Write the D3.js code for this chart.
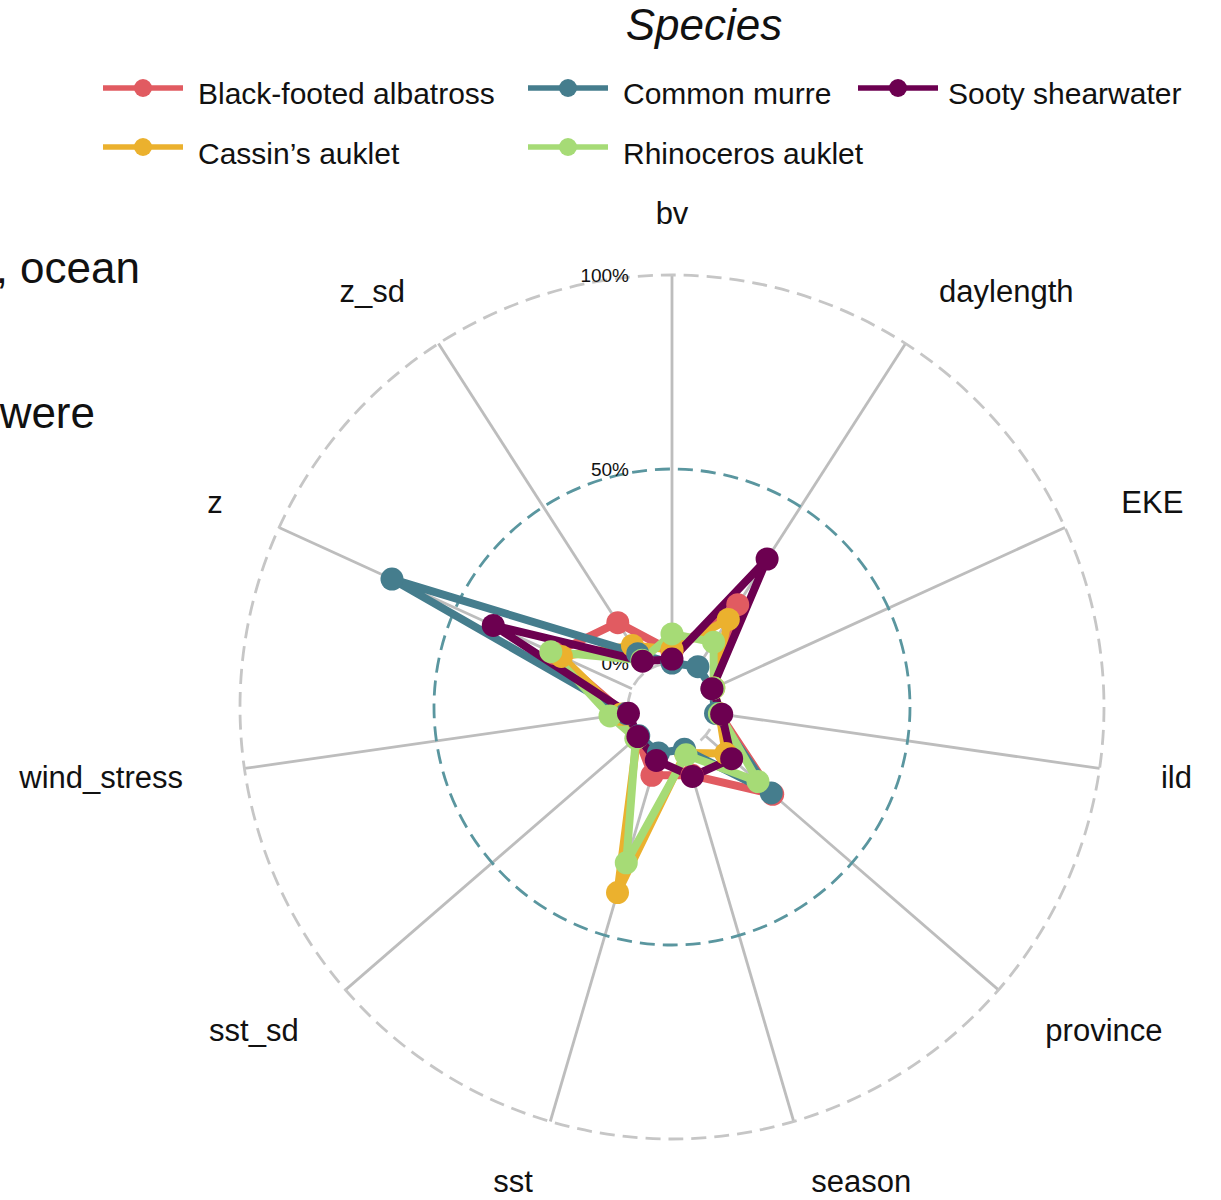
<!DOCTYPE html>
<html>
<head>
<meta charset="utf-8">
<script src="https://cdn.jsdelivr.net/npm/d3@7"></script>
<style>
  body { margin: 0; background: #fff; }
  svg text { font-family: "Liberation Sans", Arial, Helvetica, sans-serif; fill: #111; }
</style>
</head>
<body>
<div id="chart"></div>
<script>
// variables around the radar, clockwise from the top
var axes = ["bv", "daylength", "EKE", "ild", "province", "season", "sst", "sst_sd", "wind_stress", "z", "z_sd"];

var species = ["Black-footed albatross", "Cassin\u2019s auklet", "Common murre", "Rhinoceros auklet", "Sooty shearwater"];
var colors = ["#e15b61", "#ebb12e", "#457d8d", "#a6db76", "#6c0050"];

// relative importance (%) per variable, same order as axes
var albatross = [3, 20, 0, 1, 23, 7, 7, 0.5, 1, 22, 14.5];
var cassins   = [3.5, 15.5, 0.5, 1, 7, 1, 38.5, 0.5, 2, 20, 7.5];
var murre     = [0, 1, 0, 0, 22.5, 0, 1, 0, 0.5, 68, 5];
var rhino     = [7.5, 8.5, 0.5, 1, 18, 1.5, 30.5, 1, 4.8, 23, 3];
var sooty     = [1, 34, 0, 1.6, 9, 7.3, 3, 0.3, 0, 39.3, 2.7];

var gridValues = [0, 50, 100];
var gridLabels = ["0%", "50%", "100%"];

var seriesValues = [albatross, cassins, murre, rhino, sooty];

var width = 1221, height = 1200;
var cx = 672, cy = 707;
var r0 = 44, rMax = 432;

var svg = d3.select("#chart").append("svg")
    .attr("width", width)
    .attr("height", height);

// cut-off text of the neighbouring slide text
svg.append("text").attr("x", 140).attr("y", 283)
    .attr("text-anchor", "end").style("font-size", "44px").text(", ocean");
svg.append("text").attr("x", 95).attr("y", 428)
    .attr("text-anchor", "end").style("font-size", "44px").text("were");

var r = d3.scaleLinear().domain([0, 100]).range([r0, rMax]);
var angle = d3.scaleLinear().domain([0, axes.length]).range([0, 2 * Math.PI]);

var g = svg.append("g")
    .attr("transform", "translate(" + cx + "," + cy + ")");

// axis spokes
g.selectAll(".spoke")
    .data(axes)
  .enter().append("line")
    .attr("class", "spoke")
    .attr("x1", function(d, i) { return r0 * Math.sin(angle(i)); })
    .attr("y1", function(d, i) { return -r0 * Math.cos(angle(i)); })
    .attr("x2", function(d, i) { return rMax * Math.sin(angle(i)); })
    .attr("y2", function(d, i) { return -rMax * Math.cos(angle(i)); })
    .attr("stroke", "#bdbdbd")
    .attr("stroke-width", 2.8);

// grid circles
g.selectAll(".grid")
    .data(gridValues)
  .enter().append("circle")
    .attr("class", "grid")
    .attr("r", function(d) { return r(d); })
    .attr("fill", "none")
    .attr("stroke", function(d) { return d == 50 ? "#5a969f" : "#c6c6c6"; })
    .attr("stroke-width", 2.8)
    .attr("stroke-dasharray", "15,8");

// grid labels
g.selectAll(".gridlab")
    .data(gridValues)
  .enter().append("text")
    .attr("class", "gridlab")
    .attr("x", -43)
    .attr("y", function(d) { return -r(d); })
    .attr("dy", "0.35em")
    .attr("text-anchor", "end")
    .style("font-size", "19px")
    .text(function(d, i) { return gridLabels[i]; });

// axis labels
var labR = 494;
g.selectAll(".axlab")
    .data(axes)
  .enter().append("text")
    .attr("class", "axlab")
    .attr("x", function(d, i) { return labR * Math.sin(angle(i)); })
    .attr("y", function(d, i) { return -labR * Math.cos(angle(i)); })
    .attr("dy", "0.35em")
    .attr("text-anchor", function(d, i) {
        var s = Math.sin(angle(i));
        if (Math.abs(s) < 0.01) return "middle";
        return s > 0 ? "start" : "end";
    })
    .style("font-size", "31px")
    .text(function(d) { return d; });

// series lines
var line = d3.lineRadial()
    .angle(function(d, i) { return angle(i); })
    .radius(function(d) { return r(d); })
    .curve(d3.curveLinearClosed);

g.selectAll(".series")
    .data(seriesValues)
  .enter().append("path")
    .attr("class", "series")
    .attr("d", line)
    .attr("fill", "none")
    .attr("stroke", function(d, i) { return colors[i]; })
    .attr("stroke-width", 8)
    .attr("stroke-linejoin", "round");

// series points
seriesValues.forEach(function(vals, k) {
    g.selectAll(".pt" + k)
        .data(vals)
      .enter().append("circle")
        .attr("class", "pt" + k)
        .attr("cx", function(d, i) { return r(d) * Math.sin(angle(i)); })
        .attr("cy", function(d, i) { return -r(d) * Math.cos(angle(i)); })
        .attr("r", 11.5)
        .attr("fill", colors[k]);
});

// legend
svg.append("text")
    .attr("x", 704).attr("y", 40)
    .attr("text-anchor", "middle")
    .style("font-size", "44px")
    .style("font-style", "italic")
    .text("Species");

var keyX = [103, 528, 858], textX = [198, 623, 948];
var keyY = [88, 147], textY = [104, 164];

var leg = svg.selectAll(".leg")
    .data(species)
  .enter().append("g")
    .attr("class", "leg");

leg.append("line")
    .attr("x1", function(d, i) { return keyX[Math.floor(i / 2)]; })
    .attr("x2", function(d, i) { return keyX[Math.floor(i / 2)] + 80; })
    .attr("y1", function(d, i) { return keyY[i % 2]; })
    .attr("y2", function(d, i) { return keyY[i % 2]; })
    .attr("stroke", function(d, i) { return colors[i]; })
    .attr("stroke-width", 5.5);

leg.append("circle")
    .attr("cx", function(d, i) { return keyX[Math.floor(i / 2)] + 40; })
    .attr("cy", function(d, i) { return keyY[i % 2]; })
    .attr("r", 9)
    .attr("fill", function(d, i) { return colors[i]; });

leg.append("text")
    .attr("x", function(d, i) { return textX[Math.floor(i / 2)]; })
    .attr("y", function(d, i) { return textY[i % 2]; })
    .style("font-size", "30px")
    .text(function(d) { return d; });
</script>
</body>
</html>
